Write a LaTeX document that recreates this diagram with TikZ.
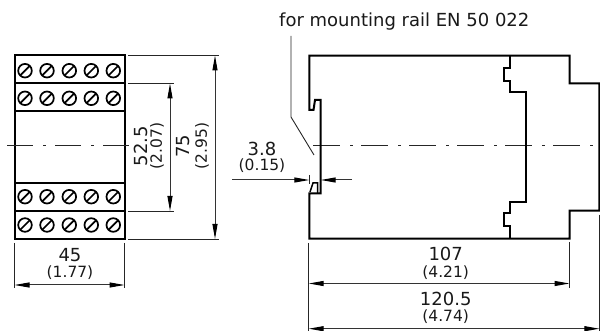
\documentclass[tikz,border=0pt]{standalone}
\usepackage{fontspec}
\setmainfont{DejaVu Sans}
\usetikzlibrary{arrows.meta}
\tikzset{
  outline/.style={line width=2pt,line join=miter,black},
  thin line/.style={line width=0.9pt,black!85},
  dimline/.style={line width=1pt,black!80,{Triangle[length=15pt,width=5pt,black]}-{Triangle[length=15pt,width=5pt,black]}},
  onearrow/.style={line width=1pt,black!80,-{Triangle[length=15pt,width=5pt,black]}},
  centre/.style={line width=0.9pt,black!85},
  big/.style={inner sep=0pt,font=\fontsize{18}{18}\selectfont,text=black!90},
  small/.style={inner sep=0pt,font=\fontsize{15.5}{16}\selectfont,text=black!90},
  lead/.style={inner sep=0pt,font=\fontsize{18}{18}\selectfont,text=black!90},
}
\newcommand{\screw}[2]{%
  \draw[line width=1.7pt] (#1,#2) circle[radius=6.8];
  \draw[line width=1.7pt] (#1-5,#2+5) -- (#1+5,#2-5);}
\begin{document}
\begin{tikzpicture}[x=1pt,y=-1pt]
\useasboundingbox (0,0) rectangle (600,331);
% left view
\draw[outline] (14.5,55.5) rectangle (124.5,239);
\draw[outline] (14.5,83.5) -- (124.5,83.5);
\draw[outline] (14.5,111.5) -- (124.5,111.5);
\draw[outline] (14.5,182.7) -- (124.5,182.7);
\draw[outline] (14.5,211) -- (124.5,211);
\foreach \y in {70.7,98.3,196.7,225}
  \foreach \x in {25,47,69.3,91.3,113.3}
    {\screw{\x}{\y}}
% centre lines
\foreach \a in {7,55,103}
  \draw[centre] (\a,145.7) -- ++(26,0);
\foreach \a in {43,91}
  \draw[centre] (\a,145.7) -- ++(3,0);
\foreach \a in {313,361,409,457,505,553}
  \draw[centre] (\a,145.7) -- ++(27,0);
\foreach \a in {350,398,446,494,542,590}
  \draw[centre] (\a,145.7) -- ++(3,0);
% left view dimensions
\coordinate (t75a) at (215,55.5);
\coordinate (t75b) at (215,239);
\coordinate (t52a) at (170,83.5);
\coordinate (t52b) at (170,211);
\draw[thin line] (128,55.5) -- (219,55.5);
\draw[thin line] (128,239) -- (219,239);
\draw[thin line] (128,83.5) -- (174,83.5);
\draw[thin line] (128,211) -- (174,211);
\draw[dimline] (t75a) -- (t75b);
\draw[dimline] (t52a) -- (t52b);
\draw[thin line] (14.5,243) -- (14.5,288);
\draw[thin line] (124.5,243) -- (124.5,288);
\coordinate (w45a) at (14.5,285);
\coordinate (w45b) at (124.5,285);
\draw[dimline] (w45a) -- (w45b);
\node[big] (n45) at (70,255) {45};
\node[small] (n177) at (70,273) {(1.77)};
\node[big,rotate=90] (n525) at (141,146) {52.5};
\node[small,rotate=90] (n207) at (157,146) {(2.07)};
\node[big,rotate=90] (n75) at (183,146) {75};
\node[small,rotate=90] (n295) at (202,146) {(2.95)};
% right view
\draw[outline] (309.3,192.5) -- (309.3,238.7) -- (569.5,238.7) -- (569.5,210.7) -- (599.3,210.7)
  -- (599.3,83.3) -- (569.5,83.3) -- (569.5,55.7) -- (309.3,55.7) -- (309.3,110)
  -- (313.5,110) -- (315,100) -- (320.7,100) -- (320.7,193.3) -- (309.3,193.3) -- (309.3,192.5);
\draw[line width=1.5pt] (310,192) -- (313,183) -- (317.5,183) -- (317.5,193);
\draw[outline] (510,55.7) -- (510,68.3) -- (504,68.3) -- (504,80.7) -- (510,80.7) -- (510,91.7)
  -- (526,91.7) -- (526,201.7) -- (510,201.7) -- (510,213.3) -- (504,213.3) -- (504,226)
  -- (510,226) -- (510,238.7);
% leader
\node[lead,anchor=west] (mount) at (279,22) {for mounting rail EN 50 022};
\coordinate (leadtop) at (291,36);
\coordinate (leadbend) at (291,117);
\coordinate (leadend) at (314,155);
\draw[thin line] (leadtop) -- (leadbend) -- (leadend);
% 3.8 dimension
\coordinate (gapa) at (232,180);
\coordinate (gapb) at (309.3,180);
\coordinate (gapc) at (352,180);
\coordinate (gapd) at (320.7,180);
\draw[onearrow] (gapa) -- (gapb);
\draw[onearrow] (gapc) -- (gapd);
\draw[thin line] (309.3,175) -- (309.3,184);
\node[big] (n38) at (262,149) {3.8};
\node[small] (n015) at (262,166) {(0.15)};
% right view dimensions
\draw[thin line] (308.7,243) -- (308.7,331);
\draw[thin line] (569.5,242) -- (569.5,288);
\draw[thin line] (599.4,214.7) -- (599.4,331);
\coordinate (w107a) at (308.7,283.5);
\coordinate (w107b) at (569.5,283.5);
\coordinate (w120a) at (308.7,328.7);
\coordinate (w120b) at (599.4,328.7);
\draw[dimline] (w107a) -- (w107b);
\draw[dimline] (w120a) -- (w120b);
\node[big] (n107) at (445.7,254) {107};
\node[small] (n421) at (445.7,272.7) {(4.21)};
\node[big] (n120) at (445.7,299) {120.5};
\node[small] (n474) at (445.7,316.7) {(4.74)};
\end{tikzpicture}
\end{document}
